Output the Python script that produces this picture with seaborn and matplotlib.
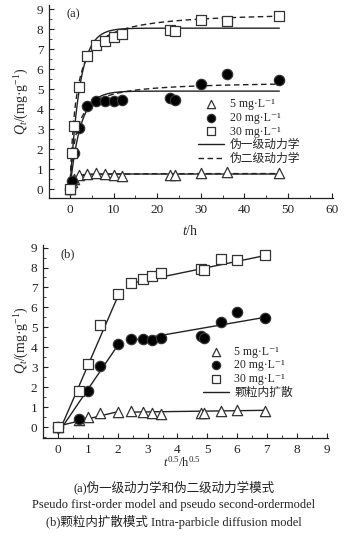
import numpy as np
import pandas as pd
import matplotlib
matplotlib.use("Agg")
import matplotlib.pyplot as plt
from matplotlib.ticker import MultipleLocator
import seaborn as sns

sns.set_style("ticks")
plt.rcParams['font.family'] = ['Liberation Serif', 'DejaVu Serif', 'Noto Sans CJK SC']
plt.rcParams['mathtext.fontset'] = 'custom'
plt.rcParams['mathtext.rm'] = 'Liberation Serif'
plt.rcParams['mathtext.it'] = 'Liberation Serif:italic'

# ---------------- data ----------------
t_h = [0, 0.5, 1, 2, 4, 6, 8, 10, 12, 23, 24, 30, 36, 48]
q_5 = [0, 0.35, 0.5, 0.7, 0.75, 0.8, 0.75, 0.7, 0.65, 0.7, 0.7, 0.8, 0.85, 0.8]
q_20 = [0, 0.38, 1.8, 3.05, 4.15, 4.4, 4.4, 4.38, 4.45, 4.55, 4.45, 5.25, 5.75, 5.45]
q_30 = [0, 1.8, 3.15, 5.1, 6.65, 7.2, 7.4, 7.6, 7.75, 7.95, 7.9, 8.45, 8.4, 8.65]
series_labels = ["5 mg·L⁻¹", "20 mg·L⁻¹", "30 mg·L⁻¹"]

# pseudo first-order fit parameters (qe, k1)
pfo_qe = [0.75, 4.9, 8.05]
pfo_k = [1.0, 0.42, 0.45]
# pseudo second-order fit parameters (qe, k2)
pso_qe = [0.78, 5.4, 8.9]
pso_k = [3.0, 0.135, 0.081]

# intra-particle diffusion segments: (x_start, x_end, intercept, slope)
ipd_seg1 = [(0.0, 2.0, 0.05, 0.36), (0.0, 2.0, -0.3, 2.2), (0.0, 2.0, -0.35, 3.45)]
ipd_seg2 = [(2.45, 6.93, 0.70, 0.02), (2.45, 6.93, 3.7, 0.26), (2.45, 6.93, 6.45, 0.31)]

captions = ["(a)伪一级动力学和伪二级动力学模式",
            "Pseudo first-order model and pseudo second-ordermodel",
            "(b)颗粒内扩散模式 Intra-parbicle diffusion model"]

# ---------------- figure ----------------
W, H = 348, 537
fig = plt.figure(figsize=(W / 100, H / 100), dpi=100)

def axes_px(left, top, right, bottom):
    return fig.add_axes([left / W, 1 - bottom / H, (right - left) / W, (bottom - top) / H])

ax1 = axes_px(49, 5, 333, 198)
ax2 = axes_px(43, 245, 328, 438)

markers = ["^", "o", "s"]
face = ["white", "black", "white"]
edge = "#333333"
msize = [55, 55, 60]
line_c = "#222222"

def style_axes(ax):
    for s in ["top", "right"]:
        ax.spines[s].set_visible(False)
    for s in ["left", "bottom"]:
        ax.spines[s].set_linewidth(0.9)
        ax.spines[s].set_color("#222222")
    ax.tick_params(which="both", direction="in", labelsize=9.5, colors="#222222", pad=4)
    ax.tick_params(which="major", length=3.5, width=0.8)
    ax.tick_params(which="minor", length=2, width=0.6)

leg_kw = dict(frameon=False, fontsize=8.5, handlelength=2.2, handletextpad=0.5,
              labelspacing=0.15, borderpad=0.1, markerscale=0.8)

# ----- panel (a)
df = pd.DataFrame({"t": t_h * 3, "q": q_5 + q_20 + q_30,
                   "s": sum([[lab] * len(t_h) for lab in series_labels], [])})
tt = np.linspace(0, 48, 400)
for i, lab in enumerate(series_labels):
    pfo = pfo_qe[i] * (1 - np.exp(-pfo_k[i] * tt))
    pso = pso_k[i] * pso_qe[i] ** 2 * tt / (1 + pso_k[i] * pso_qe[i] * tt)
    sns.lineplot(x=tt, y=pfo, ax=ax1, color=line_c, lw=1.0, linestyle="-",
                 label="伪一级动力学" if i == 0 else None, legend=False)
    sns.lineplot(x=tt, y=pso, ax=ax1, color=line_c, lw=1.0, linestyle=(0, (4, 2.5)),
                 label="伪二级动力学" if i == 0 else None, legend=False)
for i, lab in enumerate(series_labels):
    sub = df[df.s == lab]
    sns.scatterplot(data=sub, x="t", y="q", ax=ax1, marker=markers[i], s=msize[i],
                    facecolor=face[i], edgecolor=edge, linewidth=0.9, label=lab,
                    legend=False, zorder=5)

ax1.set_xlim(-4.8, 60.3)
ax1.set_ylim(-0.45, 9.21)
ax1.xaxis.set_major_locator(MultipleLocator(10))
ax1.xaxis.set_minor_locator(MultipleLocator(5))
ax1.yaxis.set_major_locator(MultipleLocator(1))
ax1.yaxis.set_minor_locator(MultipleLocator(0.5))
style_axes(ax1)
ax1.set_xlabel("$t$/h", fontsize=10)
ax1.xaxis.set_label_coords((190 - 49) / 284, (198 - 224) / 193)
ax1.set_ylabel("$Q_t$/(mg·g$^{-1}$)", fontsize=10)
ax1.yaxis.set_label_coords((31 - 49) / 284, (198 - 101) / 193)
ax1.text(0.06, 0.95, "(a)", transform=ax1.transAxes, fontsize=9, va="center")

h, l = ax1.get_legend_handles_labels()
order = [l.index(series_labels[0]), l.index(series_labels[1]), l.index(series_labels[2]),
         l.index("伪一级动力学"), l.index("伪二级动力学")]
ax1.legend([h[k] for k in order], [l[k] for k in order], loc="upper left",
           bbox_to_anchor=(0.50, 0.555), **leg_kw)

# ----- panel (b)
sq = np.sqrt(np.array(t_h))
df2 = pd.DataFrame({"x": list(sq) * 3, "q": q_5 + q_20 + q_30,
                    "s": sum([[lab] * len(t_h) for lab in series_labels], [])})
for i in range(3):
    for seg in (ipd_seg1[i], ipd_seg2[i]):
        xs = np.array([seg[0], seg[1]])
        sns.lineplot(x=xs, y=seg[2] + seg[3] * xs, ax=ax2, color=line_c, lw=1.0,
                     label="颗粒内扩散" if (i == 0 and seg is ipd_seg1[0]) else None,
                     legend=False)
for i, lab in enumerate(series_labels):
    sub = df2[df2.s == lab]
    sns.scatterplot(data=sub, x="x", y="q", ax=ax2, marker=markers[i], s=msize[i],
                    facecolor=face[i], edgecolor=edge, linewidth=0.9, label=lab,
                    legend=False, zorder=5)

ax2.set_xlim(-0.51, 9.05)
ax2.set_ylim(-0.55, 9.13)
ax2.xaxis.set_major_locator(MultipleLocator(1))
ax2.xaxis.set_minor_locator(MultipleLocator(0.5))
ax2.yaxis.set_major_locator(MultipleLocator(1))
ax2.yaxis.set_minor_locator(MultipleLocator(0.5))
style_axes(ax2)
ax2.set_xlabel("$t^{0.5}$/h$^{0.5}$", fontsize=9)
ax2.xaxis.set_label_coords((182 - 43) / 285, (438 - 455) / 193)
ax2.set_ylabel("$Q_t$/(mg·g$^{-1}$)", fontsize=10)
ax2.yaxis.set_label_coords((31 - 43) / 285, (438 - 340) / 193)
ax2.text(0.06, 0.95, "(b)", transform=ax2.transAxes, fontsize=9, va="center")

h, l = ax2.get_legend_handles_labels()
order = [l.index(series_labels[0]), l.index(series_labels[1]), l.index(series_labels[2]),
         l.index("颗粒内扩散")]
ax2.legend([h[k] for k in order], [l[k] for k in order], loc="upper left",
           bbox_to_anchor=(0.535, 0.515), **leg_kw)

# ----- captions
for y, txt in zip([487, 505, 522], captions):
    fig.text(0.5, 1 - y / H, txt, ha="center", va="center", fontsize=9, color="#222222")

fig.savefig("out.png", dpi=100)
